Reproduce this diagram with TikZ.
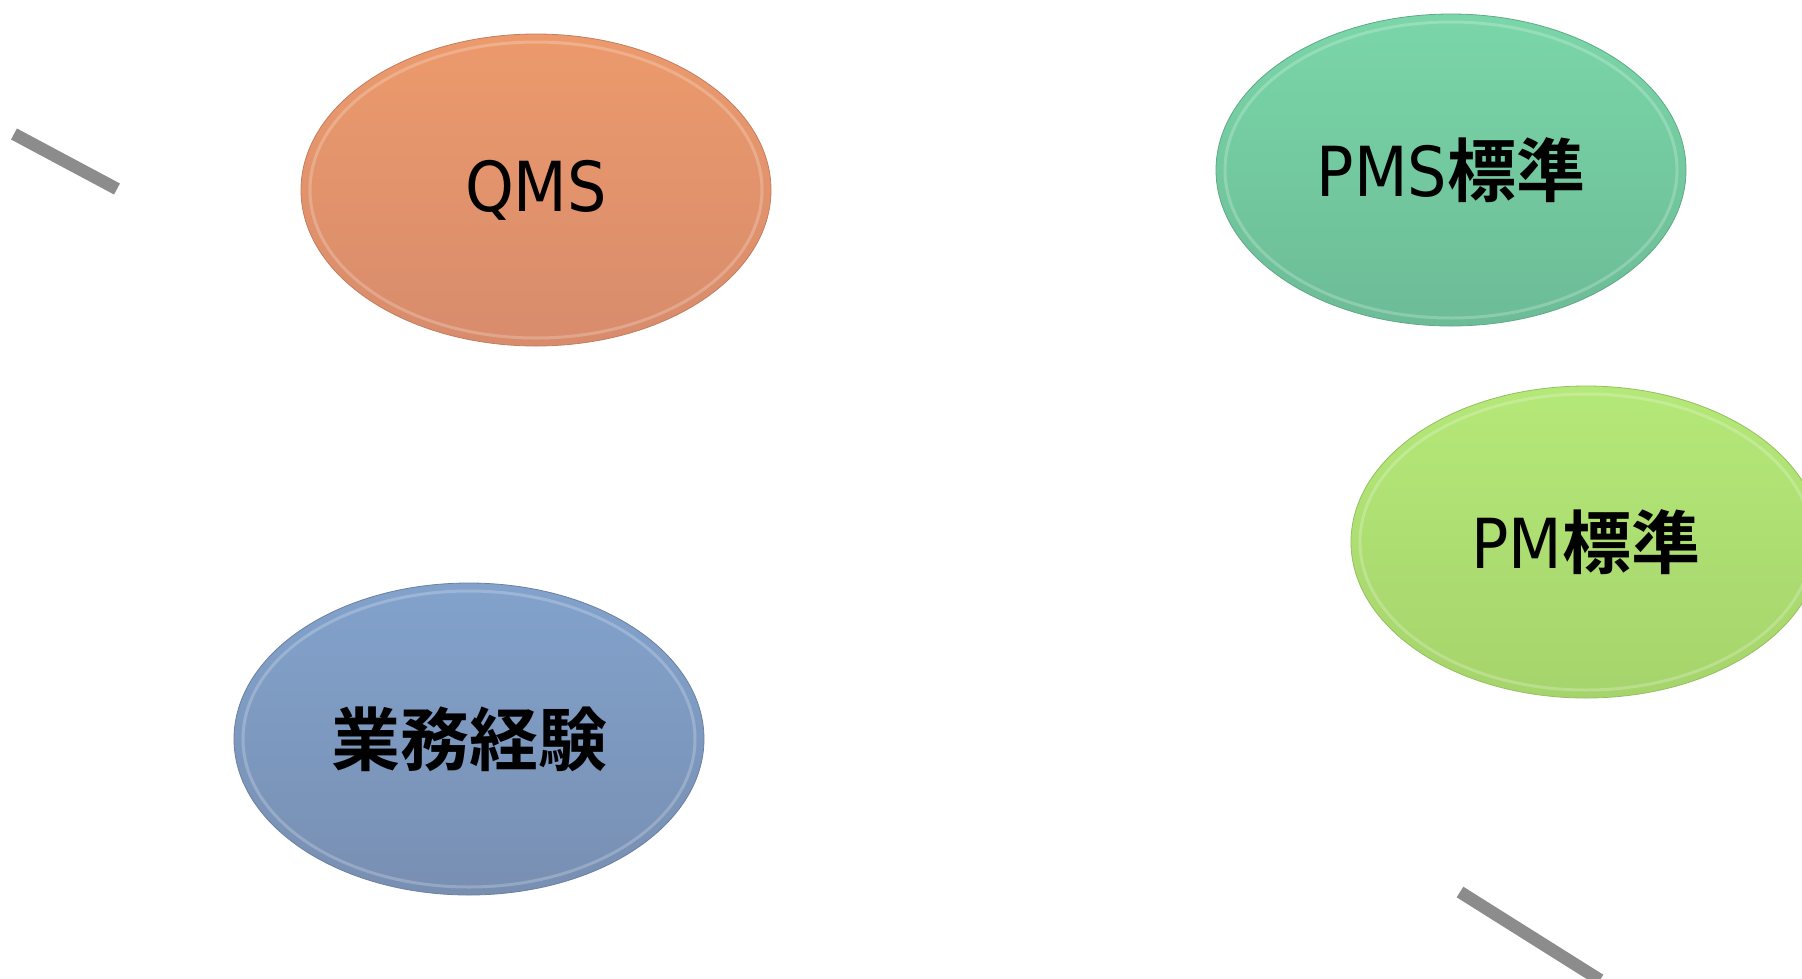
\documentclass[tikz,border=0pt]{standalone}
\usepackage{fontspec}
\usetikzlibrary{shapes.geometric}
\newfontfamily\latf{DejaVu Sans Condensed}
\newfontfamily\cjkf{Noto Sans CJK JP Bold}
\definecolor{linegray}{HTML}{8C8C8C}
\definecolor{orT}{HTML}{EC9A6C}
\definecolor{orB}{HTML}{D88C6C}
\definecolor{gnT}{HTML}{7AD6A8}
\definecolor{gnB}{HTML}{6CBC97}
\definecolor{lmT}{HTML}{B4E878}
\definecolor{lmB}{HTML}{A6D46C}
\definecolor{blT}{HTML}{82A2CC}
\definecolor{blB}{HTML}{788FB2}
\tikzset{
  disc/.style={ellipse, minimum width=470pt, minimum height=312pt, inner sep=0pt,
    draw=#1!90!black, line width=0.8pt, shading=axis, shading angle=0},
  lbl/.style={font=\fontsize{69}{71}\selectfont\latf, text=black},
  rim/.style={draw=white, opacity=0.22, line width=3pt},
  deco/.style={draw=linegray, line width=12.5pt, line cap=butt}
}
\begin{document}
\begin{tikzpicture}[x=1pt,y=-1pt]
\useasboundingbox (0,0) rectangle (1802,978);
\clip (0,0) rectangle (1802,978);
\fill[white] (0,0) rectangle (1802,978);
% decorative strokes
\coordinate (d1a) at (14,134);
\coordinate (d1b) at (117,189);
\coordinate (d2a) at (1460,892);
\coordinate (d2b) at (1600,980);
\draw[deco] (d1a) -- (d1b);
\draw[deco] (d2a) -- (d2b);
% ellipses
\node[disc=orB, top color=orT, bottom color=orB, lbl] (qms) at (536,190) {QMS};
\node[disc=gnB, top color=gnT, bottom color=gnB, lbl] (pms) at (1451,170) {PMS{\cjkf 標準}};
\node[disc=lmB, top color=lmT, bottom color=lmB, lbl] (pm) at (1586,542) {PM{\cjkf 標準}};
\node[disc=blB, top color=blT, bottom color=blB, lbl] (gyomu) at (469,739) {\cjkf 業務経験};
% bevel rims
\foreach \n in {qms,pms,pm,gyomu}{
  \draw[rim] (\n.center) ellipse [x radius=226pt, y radius=148pt];
}
\end{tikzpicture}
\end{document}
